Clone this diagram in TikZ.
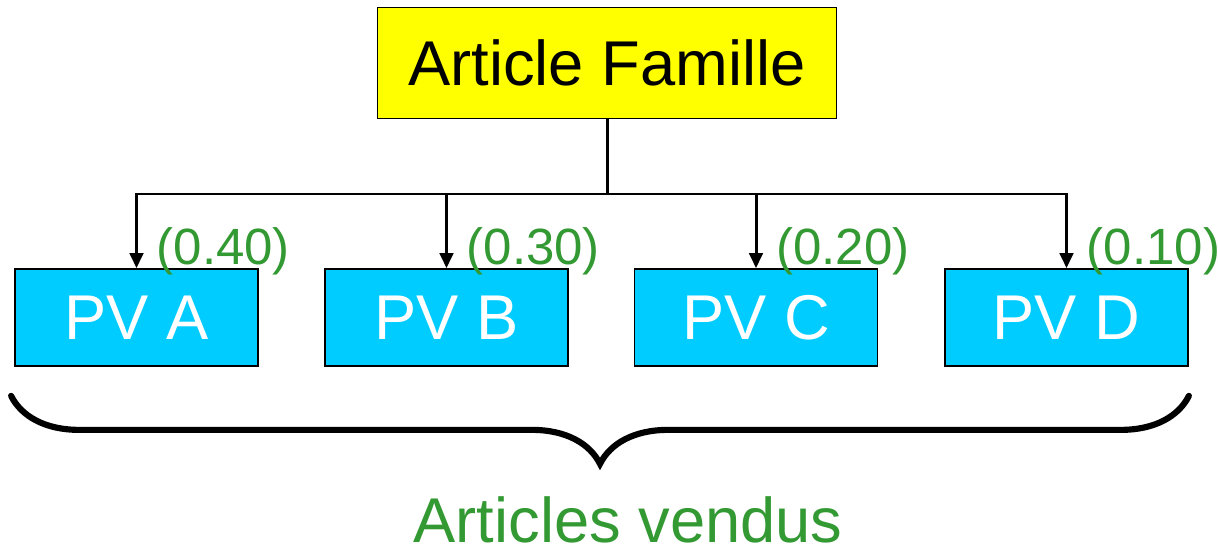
\documentclass[tikz,border=0pt]{standalone}
\usepackage{fontspec}
\setmainfont{Liberation Sans}
\usetikzlibrary{arrows.meta, decorations.pathreplacing}
\definecolor{famyellow}{HTML}{FFFF00}
\definecolor{pvcyan}{HTML}{00CCFF}
\definecolor{pctgreen}{HTML}{339933}

\begin{document}
\begin{tikzpicture}[
  every node/.style={font=\fontsize{36}{40}\selectfont, inner sep=0pt},
  fam/.style={draw, line width=1pt, fill=famyellow, minimum width=9.18cm, minimum height=2.22cm},
  pv/.style={draw, line width=1pt, fill=pvcyan, text=white, minimum width=4.86cm, minimum height=1.94cm},
  pct/.style={font=\fontsize{29}{32}\selectfont, text=pctgreen, anchor=base west},
  a/.style={-{Triangle[length=0.3cm, width=0.27cm]}, line width=1.7pt}]
\useasboundingbox (0,0) rectangle (24.36,-10.92);
\node[fam] (fam) at (12.14,-1.26) {Article Famille};
\node[pv] (pva) at (2.73,-6.35)  {PV A};
\node[pv] (pvb) at (8.93,-6.35)  {PV B};
\node[pv] (pvc) at (15.12,-6.35) {PV C};
\node[pv] (pvd) at (21.33,-6.35) {PV D};
\coordinate (bus) at (12.14,-3.88);
\draw[line width=1.7pt] (fam.south) -- (bus);
\foreach \n/\p in {pva/0.40, pvb/0.30, pvc/0.20, pvd/0.10} {
  \draw[a] (bus) -| (\n.north);
  \node[pct] (l-\n) at ([xshift=0.4cm, yshift=0.08cm]\n.north) {(\p)};
}
\coordinate (bl) at ([xshift=-0.06cm, yshift=-0.58cm]pva.south west);
\coordinate (br) at ([yshift=-0.58cm]pvd.south east);
\draw[line width=3.5pt, line cap=round, decorate, decoration={brace, mirror, amplitude=1.36cm}] (bl) -- (br);
\node[text=pctgreen, anchor=base] (vendus) at (12.56,-10.84) {Articles vendus};
\end{tikzpicture}
\end{document}
